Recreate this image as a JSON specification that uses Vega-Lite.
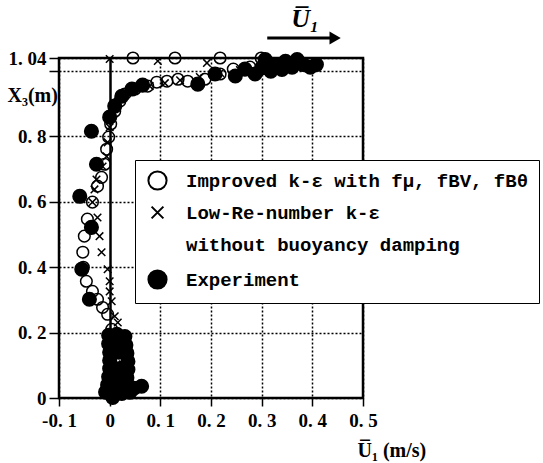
{
"$schema": "https://vega.github.io/schema/vega-lite/v6.json",
"width": 304, "height": 340,
"autosize": {"type": "none"},
"padding": {"left": 59, "top": 58, "right": 180, "bottom": 65},
"background": "white",
"config": {
  "view": {"stroke": "black", "strokeWidth": 2.5},
  "axis": {"domain": false, "grid": true, "gridColor": "black", "gridWidth": 1.5, "gridDash": [2, 2], "tickColor": "black", "tickWidth": 1.5, "labelColor": "black", "labelFont": "Liberation Serif", "labelFontWeight": "bold", "labelFontSize": 19, "titleColor": "black", "titleFont": "Liberation Serif", "titleFontWeight": "bold", "titleFontSize": 20, "labelFlush": false, "labelOverlap": false},
  "legend": {"orient": "none", "legendX": 76, "legendY": 102, "strokeColor": "black", "fillColor": "white", "padding": 10, "symbolSize": 330, "symbolStrokeWidth": 2, "symbolOffset": 2, "labelOffset": 18, "labelFont": "Liberation Mono", "labelFontWeight": "bold", "labelFontSize": 19, "labelColor": "black", "labelLimit": 600, "rowPadding": 8}
},
"encoding": {
  "x": {"field": "u", "type": "quantitative", "scale": {"domain": [-0.1, 0.5], "nice": false, "zero": false},
    "axis": {"values": [-0.1, 0, 0.1, 0.2, 0.3, 0.4, 0.5], "labelExpr": "datum.value == 0 ? '0' : (datum.value < 0 ? '-' : '') + replace(format(abs(datum.value), '.1f'), '.', '. ')", "tickSize": 8, "labelPadding": 5, "title": "U̅₁ (m/s)", "titleX": 298, "titleY": 52, "titleAlign": "left", "titleBaseline": "middle",
      "gridDash": {"condition": {"test": "datum.value === 0", "value": [1, 0]}, "value": [2, 2]},
      "gridWidth": {"condition": {"test": "datum.value === 0", "value": 2.5}, "value": 1.5}}},
  "y": {"field": "x3", "type": "quantitative", "scale": {"domain": [0, 1.04], "nice": false, "zero": false},
    "axis": {"values": [0, 0.2, 0.4, 0.6, 0.8, 1, 1.04], "labelExpr": "datum.value == 0 ? '0' : datum.value == 1.04 ? '1. 04' : datum.value == 1 ? '' : replace(format(datum.value, '.1f'), '.', '. ')", "tickSize": 10, "labelPadding": 3, "title": "X₃(m)", "titleAngle": 0, "titleX": -52, "titleY": 37, "titleAlign": "left", "titleBaseline": "middle"}}
},
"layer": [
  {
    "data": {"values": [
      {"s":"Experiment","u":-0.002,"x3":0.192},{"s":"Experiment","u":0.014,"x3":0.195},{"s":"Experiment","u":0.030,"x3":0.188},
      {"s":"Experiment","u":-0.002,"x3":0.166},{"s":"Experiment","u":0.014,"x3":0.168},{"s":"Experiment","u":0.032,"x3":0.162},
      {"s":"Experiment","u":0.000,"x3":0.140},{"s":"Experiment","u":0.018,"x3":0.140},{"s":"Experiment","u":0.034,"x3":0.137},
      {"s":"Experiment","u":0.000,"x3":0.115},{"s":"Experiment","u":0.036,"x3":0.112},
      {"s":"Experiment","u":0.000,"x3":0.090},{"s":"Experiment","u":0.020,"x3":0.090},{"s":"Experiment","u":0.036,"x3":0.087},
      {"s":"Experiment","u":-0.002,"x3":0.065},{"s":"Experiment","u":0.018,"x3":0.064},{"s":"Experiment","u":0.034,"x3":0.062},
      {"s":"Experiment","u":-0.004,"x3":0.040},{"s":"Experiment","u":0.014,"x3":0.042},{"s":"Experiment","u":0.032,"x3":0.040},{"s":"Experiment","u":0.048,"x3":0.030},{"s":"Experiment","u":0.063,"x3":0.036},
      {"s":"Experiment","u":-0.008,"x3":0.018},{"s":"Experiment","u":0.008,"x3":0.016},{"s":"Experiment","u":0.024,"x3":0.014},{"s":"Experiment","u":0.040,"x3":0.018},{"s":"Experiment","u":0.006,"x3":0.002},
      {"s":"Experiment","u":-0.040,"x3":0.302},{"s":"Experiment","u":-0.055,"x3":0.394},{"s":"Experiment","u":-0.036,"x3":0.522},{"s":"Experiment","u":-0.059,"x3":0.617},{"s":"Experiment","u":-0.026,"x3":0.715},{"s":"Experiment","u":-0.036,"x3":0.816},
      {"s":"Experiment","u":0.000,"x3":0.859},{"s":"Experiment","u":0.010,"x3":0.893},{"s":"Experiment","u":0.024,"x3":0.923},{"s":"Experiment","u":0.044,"x3":0.945},{"s":"Experiment","u":0.065,"x3":0.957},
      {"s":"Experiment","u":0.174,"x3":0.960},{"s":"Experiment","u":0.208,"x3":0.991},{"s":"Experiment","u":0.248,"x3":0.985},{"s":"Experiment","u":0.267,"x3":1.006},{"s":"Experiment","u":0.287,"x3":0.991},{"s":"Experiment","u":0.300,"x3":1.010},{"s":"Experiment","u":0.307,"x3":1.035},{"s":"Experiment","u":0.318,"x3":1.000},{"s":"Experiment","u":0.327,"x3":1.020},{"s":"Experiment","u":0.340,"x3":1.005},{"s":"Experiment","u":0.347,"x3":1.030},{"s":"Experiment","u":0.360,"x3":1.012},{"s":"Experiment","u":0.370,"x3":1.035},{"s":"Experiment","u":0.382,"x3":1.020},{"s":"Experiment","u":0.396,"x3":1.012},{"s":"Experiment","u":0.408,"x3":1.020}
    ]},
    "mark": {"type": "point", "filled": true, "strokeWidth": 1.5, "opacity": 1, "size": 185},
    "encoding": {
      "shape": {"field": "s", "type": "nominal", "scale": {"domain": ["Improved", "LowRe", "gap", "Experiment"], "range": ["circle", "M-0.65,-0.65L0.65,0.65M-0.65,0.65L0.65,-0.65", "circle", "circle"]},
        "legend": {"title": null, "labelExpr": "datum.value == 'Improved' ? 'Improved k-ε with fμ, fBV, fBθ' : datum.value == 'LowRe' ? 'Low-Re-number k-ε' : datum.value == 'gap' ? 'without buoyancy damping' : 'Experiment'"}},
      "fill": {"field": "s", "type": "nominal", "scale": {"domain": ["Improved", "LowRe", "gap", "Experiment"], "range": ["transparent", "transparent", "transparent", "black"]},
        "legend": {"title": null, "labelExpr": "datum.value == 'Improved' ? 'Improved k-ε with fμ, fBV, fBθ' : datum.value == 'LowRe' ? 'Low-Re-number k-ε' : datum.value == 'gap' ? 'without buoyancy damping' : 'Experiment'"}},
      "stroke": {"field": "s", "type": "nominal", "scale": {"domain": ["Improved", "LowRe", "gap", "Experiment"], "range": ["black", "black", "transparent", "black"]},
        "legend": {"title": null, "labelExpr": "datum.value == 'Improved' ? 'Improved k-ε with fμ, fBV, fBθ' : datum.value == 'LowRe' ? 'Low-Re-number k-ε' : datum.value == 'gap' ? 'without buoyancy damping' : 'Experiment'"}}
    }
  },
  {
    "data": {"values": [
      {"s":"Improved","u":-0.004,"x3":0.256},{"s":"Improved","u":-0.014,"x3":0.277},{"s":"Improved","u":-0.024,"x3":0.302},{"s":"Improved","u":-0.034,"x3":0.326},{"s":"Improved","u":-0.046,"x3":0.357},{"s":"Improved","u":-0.052,"x3":0.400},{"s":"Improved","u":-0.053,"x3":0.446},{"s":"Improved","u":-0.050,"x3":0.495},{"s":"Improved","u":-0.044,"x3":0.547},{"s":"Improved","u":-0.034,"x3":0.599},{"s":"Improved","u":-0.024,"x3":0.648},{"s":"Improved","u":-0.016,"x3":0.675},{"s":"Improved","u":-0.010,"x3":0.715},{"s":"Improved","u":-0.006,"x3":0.761},{"s":"Improved","u":-0.002,"x3":0.798},{"s":"Improved","u":0.002,"x3":0.838},{"s":"Improved","u":0.010,"x3":0.877},{"s":"Improved","u":0.020,"x3":0.908},
      {"s":"Improved","u":0.004,"x3":0.210},{"s":"Improved","u":0.010,"x3":0.164},{"s":"Improved","u":0.014,"x3":0.118},{"s":"Improved","u":0.016,"x3":0.072},{"s":"Improved","u":0.010,"x3":0.026},
      {"s":"Improved","u":0.030,"x3":0.930},{"s":"Improved","u":0.050,"x3":0.945},{"s":"Improved","u":0.075,"x3":0.954},{"s":"Improved","u":0.093,"x3":0.966},{"s":"Improved","u":0.113,"x3":0.969},{"s":"Improved","u":0.135,"x3":0.975},{"s":"Improved","u":0.154,"x3":0.969},{"s":"Improved","u":0.188,"x3":0.975},{"s":"Improved","u":0.218,"x3":0.991},{"s":"Improved","u":0.244,"x3":1.006},{"s":"Improved","u":0.277,"x3":1.012},{"s":"Improved","u":0.317,"x3":1.018},{"s":"Improved","u":0.356,"x3":1.021},
      {"s":"Improved","u":0.046,"x3":1.040},{"s":"Improved","u":0.129,"x3":1.040},{"s":"Improved","u":0.218,"x3":1.040},{"s":"Improved","u":0.299,"x3":1.040},
      {"s":"LowRe","u":-0.024,"x3":0.552},{"s":"LowRe","u":-0.020,"x3":0.495},{"s":"LowRe","u":-0.016,"x3":0.446},{"s":"LowRe","u":-0.004,"x3":0.394},{"s":"LowRe","u":0.000,"x3":0.357},{"s":"LowRe","u":0.000,"x3":0.326},{"s":"LowRe","u":0.004,"x3":0.296},{"s":"LowRe","u":0.010,"x3":0.250},{"s":"LowRe","u":0.016,"x3":0.231},
      {"s":"LowRe","u":-0.034,"x3":0.599},{"s":"LowRe","u":-0.030,"x3":0.638},{"s":"LowRe","u":-0.026,"x3":0.668},{"s":"LowRe","u":-0.014,"x3":0.708},{"s":"LowRe","u":-0.006,"x3":0.739},{"s":"LowRe","u":-0.004,"x3":0.782},{"s":"LowRe","u":0.000,"x3":0.828},{"s":"LowRe","u":0.006,"x3":0.868},{"s":"LowRe","u":0.016,"x3":0.905},{"s":"LowRe","u":0.030,"x3":0.926},{"s":"LowRe","u":0.050,"x3":0.942},{"s":"LowRe","u":0.079,"x3":0.954},{"s":"LowRe","u":0.109,"x3":0.963},{"s":"LowRe","u":0.139,"x3":0.972},{"s":"LowRe","u":0.178,"x3":0.982},{"s":"LowRe","u":0.218,"x3":0.994},{"s":"LowRe","u":0.257,"x3":1.003},{"s":"LowRe","u":0.297,"x3":1.009},{"s":"LowRe","u":0.337,"x3":1.015},{"s":"LowRe","u":0.376,"x3":1.018},{"s":"LowRe","u":0.406,"x3":1.018},
      {"s":"LowRe","u":0.000,"x3":1.037},{"s":"LowRe","u":0.095,"x3":1.031},{"s":"LowRe","u":0.192,"x3":1.025},
      {"s":"LowRe","u":0.020,"x3":0.194},{"s":"LowRe","u":0.024,"x3":0.149},{"s":"LowRe","u":0.026,"x3":0.103},{"s":"LowRe","u":0.024,"x3":0.057},{"s":"LowRe","u":0.016,"x3":0.020}
    ]},
    "mark": {"type": "point", "filled": true, "strokeWidth": 1.5, "opacity": 1, "size": 135},
    "encoding": {
      "shape": {"field": "s", "type": "nominal"},
      "fill": {"field": "s", "type": "nominal"},
      "stroke": {"field": "s", "type": "nominal"}
    }
  },
  {
    "data": {"values": [{"u": 0.311, "u2": 0.44, "x3": 1.101}]},
    "mark": {"type": "rule", "color": "black", "strokeWidth": 3},
    "encoding": {"x2": {"field": "u2"}}
  },
  {
    "data": {"values": [{"u": 0.445, "x3": 1.101}]},
    "mark": {"type": "point", "shape": "triangle-right", "filled": true, "color": "black", "size": 170, "opacity": 1}
  },
  {
    "data": {"values": [{"u": 0.386, "x3": 1.16, "t": "U̅₁"}]},
    "mark": {"type": "text", "font": "Liberation Serif", "fontSize": 26, "fontWeight": "bold", "fontStyle": "italic", "color": "black", "align": "center", "baseline": "middle"},
    "encoding": {"text": {"field": "t"}}
  }
]
}
